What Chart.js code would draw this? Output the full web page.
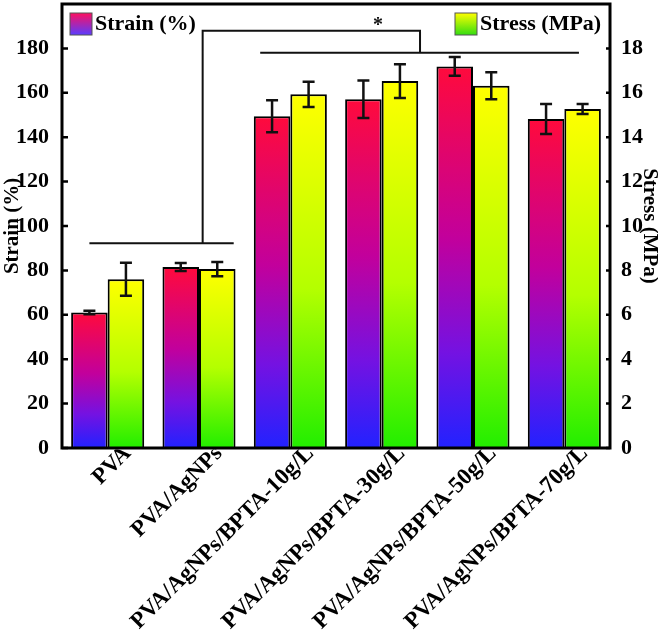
<!DOCTYPE html>
<html>
<head>
<meta charset="utf-8">
<script src="https://cdn.jsdelivr.net/npm/chart.js@4"></script>
<style>
html, body { margin: 0; padding: 0; background: #fff; }
#wrap { width: 658px; height: 643px; }
</style>
</head>
<body>
<div id="wrap"><canvas id="myChart"></canvas></div>
<script>
// data
var labels = ['PVA', 'PVA/AgNPs', 'PVA/AgNPs/BPTA-10g/L', 'PVA/AgNPs/BPTA-30g/L', 'PVA/AgNPs/BPTA-50g/L', 'PVA/AgNPs/BPTA-70g/L'];
var strain = [61, 81.5, 149.4, 157.1, 171.9, 148.2];
var strainErr = [0.8, 1.8, 7.2, 8.4, 4.2, 6.8];
var stress = [7.6, 8.06, 15.93, 16.53, 16.32, 15.27];
var stressErr = [0.74, 0.32, 0.57, 0.76, 0.61, 0.22];

// significance brackets (category index, value on strain axis)
var bracketLow = { x0: -0.2, x1: 1.38, y: 92.2 };
var bracketHigh = { x0: 1.67, x1: 5.16, y: 178 };
var bracketTop = { from: 1.04, to: 3.42, y: 188 };
var starPos = { x: 2.96, y: 191.5 };

var serif = "'Liberation Serif', 'Times New Roman', serif";
var tickFont = { family: serif, size: 22, weight: 'bold' };

var strainStops = [[0, '#ff0a3c'], [0.45, '#c2009c'], [0.75, '#7412e2'], [1, '#2222ff']];
var stressStops = [[0, '#ffff00'], [0.55, '#b4ff00'], [1, '#22ee00']];

function barGrad(c, stops, axis) {
    var chart = c.chart;
    if (!chart.chartArea || c.type !== 'data') return stops[0][1];
    var sc = chart.scales[axis];
    var top = sc.getPixelForValue(c.raw);
    var bot = sc.getPixelForValue(0);
    if (!isFinite(top) || !isFinite(bot) || top === bot) return stops[0][1];
    var g = chart.ctx.createLinearGradient(0, top, 0, bot);
    stops.forEach(function(s){ g.addColorStop(s[0], s[1]); });
    return g;
}

var extras = {
    id: 'extras',
    afterDatasetsDraw: function(chart) {
        var ctx = chart.ctx;
        var x = chart.scales.x, y = chart.scales.y;
        // error bars
        var errs = [strainErr, stressErr];
        chart.data.datasets.forEach(function(ds, i){
            var meta = chart.getDatasetMeta(i);
            var sc = chart.scales[ds.yAxisID];
            meta.data.forEach(function(el, j){
                var v = ds.data[j], e = errs[i][j];
                var t = sc.getPixelForValue(v + e), b = sc.getPixelForValue(v - e);
                ctx.save();
                ctx.strokeStyle = '#111';
                ctx.lineWidth = 2.5;
                ctx.beginPath();
                ctx.moveTo(el.x, t); ctx.lineTo(el.x, b);
                ctx.moveTo(el.x - 6, t); ctx.lineTo(el.x + 6, t);
                ctx.moveTo(el.x - 6, b); ctx.lineTo(el.x + 6, b);
                ctx.stroke();
                ctx.restore();
            });
        });
        // brackets
        ctx.save();
        ctx.strokeStyle = '#111';
        ctx.lineWidth = 2;
        ctx.beginPath();
        ctx.moveTo(x.getPixelForValue(bracketLow.x0), y.getPixelForValue(bracketLow.y));
        ctx.lineTo(x.getPixelForValue(bracketLow.x1), y.getPixelForValue(bracketLow.y));
        ctx.moveTo(x.getPixelForValue(bracketHigh.x0), y.getPixelForValue(bracketHigh.y));
        ctx.lineTo(x.getPixelForValue(bracketHigh.x1), y.getPixelForValue(bracketHigh.y));
        ctx.moveTo(x.getPixelForValue(bracketTop.from), y.getPixelForValue(bracketLow.y));
        ctx.lineTo(x.getPixelForValue(bracketTop.from), y.getPixelForValue(bracketTop.y));
        ctx.lineTo(x.getPixelForValue(bracketTop.to), y.getPixelForValue(bracketTop.y));
        ctx.lineTo(x.getPixelForValue(bracketTop.to), y.getPixelForValue(bracketHigh.y));
        ctx.stroke();
        ctx.fillStyle = '#111';
        ctx.font = 'bold 20px ' + serif;
        ctx.textAlign = 'center';
        ctx.textBaseline = 'middle';
        ctx.fillText('*', x.getPixelForValue(starPos.x), y.getPixelForValue(starPos.y) + 3);
        ctx.restore();
    },
    afterDraw: function(chart) {
        var ctx = chart.ctx, a = chart.chartArea;
        var x = chart.scales.x, y = chart.scales.y, y1 = chart.scales.y1;
        ctx.save();
        // frame
        ctx.strokeStyle = '#000';
        ctx.lineWidth = 3;
        ctx.strokeRect(a.left, a.top, a.right - a.left, a.bottom - a.top);
        // inward ticks
        ctx.lineWidth = 2.5;
        ctx.beginPath();
        y.ticks.forEach(function(t){
            var p = y.getPixelForValue(t.value);
            ctx.moveTo(a.left, p); ctx.lineTo(a.left + 6, p);
        });
        y1.ticks.forEach(function(t){
            var p = y1.getPixelForValue(t.value);
            ctx.moveTo(a.right, p); ctx.lineTo(a.right - 4, p);
        });
        ctx.stroke();
        // rotated category labels, cut at the axis
        ctx.save();
        ctx.beginPath();
        ctx.rect(0, a.bottom + 1.5, chart.width, chart.height);
        ctx.clip();
        ctx.fillStyle = '#000';
        ctx.font = 'bold 23px ' + serif;
        ctx.textAlign = 'right';
        ctx.textBaseline = 'middle';
        labels.forEach(function(l, i){
            ctx.save();
            ctx.translate(x.getPixelForValue(i) + 20, a.bottom + 2);
            ctx.rotate(-Math.PI / 4);
            ctx.fillText(l, 0, 0);
            ctx.restore();
        });
        ctx.restore();
        // legend
        var items = [
            { text: 'Strain (%)', stops: [[0, '#ff1060'], [1, '#5a3cff']], x: a.left + 8 },
            { text: 'Stress (MPa)', stops: [[0, '#ffff00'], [1, '#33dd11']], x: a.left + 393 }
        ];
        ctx.font = 'bold 22px ' + serif;
        ctx.textAlign = 'left';
        ctx.textBaseline = 'middle';
        items.forEach(function(it){
            var top = a.top + 9;
            var g = ctx.createLinearGradient(0, top, 0, top + 22);
            it.stops.forEach(function(s){ g.addColorStop(s[0], s[1]); });
            ctx.fillStyle = g;
            ctx.fillRect(it.x, top, 22, 22);
            ctx.strokeStyle = '#555';
            ctx.lineWidth = 1;
            ctx.strokeRect(it.x, top, 22, 22);
            ctx.fillStyle = '#000';
            ctx.fillText(it.text, it.x + 25, top + 11);
        });
        ctx.restore();
    }
};

var ctx = document.getElementById('myChart').getContext('2d');
var myChart = new Chart(ctx, {
    type: 'bar',
    data: {
        labels: labels,
        datasets: [
            {
                label: 'Strain (%)',
                data: strain,
                yAxisID: 'y',
                backgroundColor: function(c){ return barGrad(c, strainStops, 'y'); },
                borderColor: '#000',
                borderWidth: 2,
                categoryPercentage: 0.8,
                barPercentage: 1.0
            },
            {
                label: 'Stress (MPa)',
                data: stress,
                yAxisID: 'y1',
                backgroundColor: function(c){ return barGrad(c, stressStops, 'y1'); },
                borderColor: '#000',
                borderWidth: 2,
                categoryPercentage: 0.8,
                barPercentage: 1.0
            }
        ]
    },
    options: {
        responsive: true,
        maintainAspectRatio: false,
        animation: false,
        layout: { padding: { top: 4 } },
        plugins: { legend: { display: false }, tooltip: { enabled: false } },
        scales: {
            x: {
                grid: { display: false },
                border: { display: false },
                ticks: { display: false },
                afterFit: function(s){ s.height = 195; s.paddingLeft = 0; s.paddingRight = 0; }
            },
            y: {
                position: 'left',
                min: 0, max: 200,
                ticks: { stepSize: 20, font: tickFont, color: '#000', padding: 5 },
                grid: { display: false },
                border: { display: false },
                title: { display: true, text: 'Strain (%)', font: { family: serif, size: 21, weight: 'bold' }, color: '#000', padding: 0 },
                afterBuildTicks: function(s){ s.ticks = s.ticks.filter(function(t){ return t.value < 200; }); },
                afterFit: function(s){ s.width = 62; s.paddingTop = 0; s.paddingBottom = 0; }
            },
            y1: {
                position: 'right',
                min: 0, max: 20,
                ticks: { stepSize: 2, font: tickFont, color: '#000', padding: 3 },
                grid: { display: false },
                border: { display: false },
                title: { display: true, text: 'Stress (MPa)', font: { family: serif, size: 21, weight: 'bold', lineHeight: 0.85 }, color: '#000', padding: 0 },
                afterBuildTicks: function(s){ s.ticks = s.ticks.filter(function(t){ return t.value < 20; }); },
                afterFit: function(s){ s.width = 48; s.paddingTop = 0; s.paddingBottom = 0; }
            }
        }
    },
    plugins: [extras]
});
</script>
</body>
</html>
